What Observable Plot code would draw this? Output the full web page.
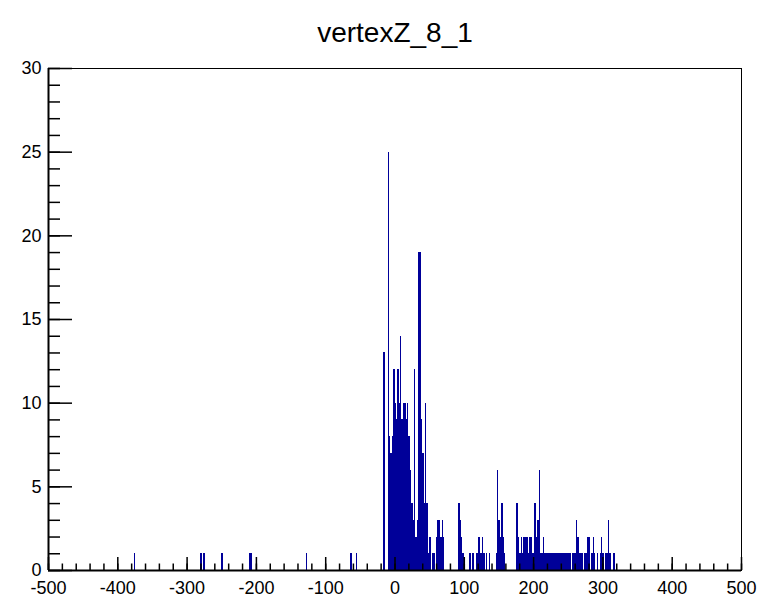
<!DOCTYPE html>
<html><head><meta charset="utf-8">
<script src="https://cdn.jsdelivr.net/npm/d3@7"></script>
<script src="https://cdn.jsdelivr.net/npm/@observablehq/plot@0.6"></script>
<style>body{margin:0;background:#fff;}</style>
</head><body><div id="chart"></div>
<script>
const title = "vertexZ_8_1";
const binWidth = 2;
// lower edges of non-empty bins (bin width 2) and their counts
const binLow = [
  -376, -280, -276, -250, -210, -208, -128, -64, -56,
  -16, -10, -8, -6, -4, -2, 0, 2, 4, 6, 8, 10, 12, 14, 16, 18, 20, 22, 24, 26, 28,
  30, 32, 34, 36, 38, 40, 42, 44, 46, 48, 50, 54, 56, 60, 62, 64, 66, 68, 70,
  92, 94, 96, 98, 108, 112, 118, 120, 122, 124, 126, 128, 132, 136,
  146, 148, 150, 152, 154, 156, 158,
  176, 178, 180, 182, 184, 186, 188, 190, 192, 194, 196, 198, 200, 202, 204, 206, 208, 210, 212, 214,
  216, 218, 220, 222, 224, 226, 228, 230, 232, 234, 236, 238, 240, 242, 244, 246, 248, 250, 252,
  256, 258, 260, 262, 264, 266, 268, 270, 274, 276, 278, 280, 284, 286, 288, 292, 296, 298, 300,
  304, 306, 308, 310, 316
];
const binCount = [
  1, 1, 1, 1, 1, 1, 1, 1, 1,
  13, 25, 8, 7, 8, 12, 10, 9, 12, 10, 14, 9, 10, 10, 9, 10, 8, 6, 4, 3, 12,
  2, 3, 19, 19, 9, 7, 4, 10, 4, 1, 2, 1, 1, 2, 3, 3, 2, 3, 2,
  4, 3, 2, 1, 1, 1, 1, 2, 2, 1, 2, 1, 1, 1,
  1, 6, 3, 2, 4, 2, 1,
  4, 2, 1, 2, 1, 2, 2, 2, 1, 2, 2, 1, 1, 4, 2, 3, 6, 1, 1, 2,
  1, 1, 1, 1, 1, 1, 1, 1, 1, 1, 1, 1, 1, 1, 1, 1, 1, 1, 1,
  1, 1, 1, 3, 2, 1, 1, 1, 1, 1, 2, 2, 1, 2, 1, 1, 1, 2, 1,
  1, 1, 3, 1, 1
];
const xTicks = [-500, -400, -300, -200, -100, 0, 100, 200, 300, 400, 500];
const xMinorTicks = d3.range(-500, 501, 20);
const yTicks = [0, 5, 10, 15, 20, 25, 30];
const yMinorTicks = d3.range(0, 31, 1);

const bins = binLow.map((lo, i) => ({x1: lo, x2: lo + binWidth, y: binCount[i]}));

const W = 775, H = 598, mL = 48, mR = 34, mT = 68, mB = 28;
const fw = W - mL - mR, fh = H - mT - mB;

const chart = Plot.plot({
  width: W, height: H,
  marginLeft: mL, marginRight: mR, marginTop: mT, marginBottom: mB,
  style: {fontFamily: "'Liberation Sans', Arial, sans-serif", fontSize: "18px", color: "black", background: "white"},
  x: {domain: [-500, 500], label: null},
  y: {domain: [0, 30], label: null},
  marks: [
    Plot.rectY(bins, {x1: "x1", x2: "x2", y1: 0, y2: "y", fill: "#000099", shapeRendering: "crispEdges"}),
    Plot.frame({stroke: "black", strokeWidth: 1}),
    Plot.tickX(xMinorTicks, {x: d => d, insetTop: fh - 6.5, stroke: "black", strokeWidth: 1.5}),
    Plot.tickX(xTicks, {x: d => d, insetTop: fh - 13, stroke: "black", strokeWidth: 1.5}),
    Plot.tickY(yMinorTicks, {y: d => d, insetRight: fw - 12, stroke: "black", strokeWidth: 1.5}),
    Plot.tickY(yTicks, {y: d => d, insetRight: fw - 24, stroke: "black", strokeWidth: 1.5}),
    Plot.ruleY([0], {stroke: "black", strokeWidth: 2}),
    Plot.ruleX([-500], {stroke: "black", strokeWidth: 2}),
    Plot.axisX({ticks: xTicks, tickSize: 0, tickPadding: 11, fontSize: 18, label: null, tickFormat: d => String(d)}),
    Plot.axisY({ticks: yTicks, tickSize: 0, tickPadding: 7, fontSize: 18, label: null, tickFormat: d => String(d)}),
    Plot.text([title], {frameAnchor: "top", text: d => d, dy: -46, fontSize: 28})
  ]
});
document.getElementById("chart").appendChild(chart);
</script>
</body></html>
